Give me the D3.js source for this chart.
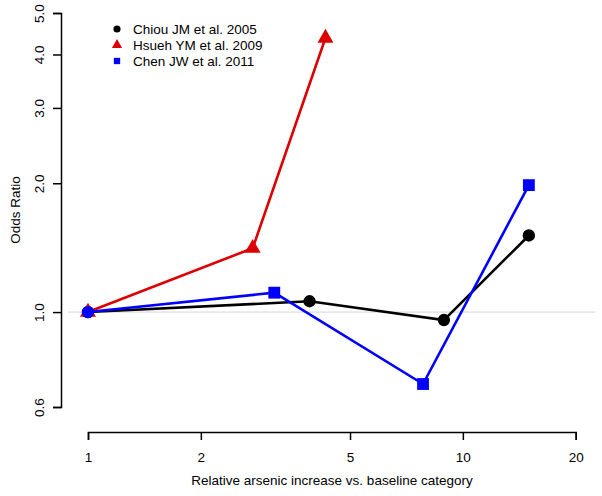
<!DOCTYPE html>
<html><head><meta charset="utf-8">
<script src="https://cdn.jsdelivr.net/npm/d3@7"></script>
<style>body{margin:0;background:#fff}svg{display:block}text{font-family:"Liberation Sans",Arial,Helvetica,sans-serif;fill:#000}</style>
</head><body>
<svg id="c" width="602" height="496"></svg>
<script>
const seriesNames = ["Chiou JM et al. 2005", "Hsueh YM et al. 2009", "Chen JW et al. 2011"];
const seriesColors = ["#000000", "#dd0000", "#0000ff"];
const seriesShapes = ["circle", "triangle", "square"];
const chiouX = [1, 3.9, 8.9, 15];
const chiouY = [1.0, 1.06, 0.958, 1.51];
const hsuehX = [1, 2.75, 4.3];
const hsuehY = [1.0, 1.41, 4.37];
const chenX = [1, 3.14, 7.83, 15];
const chenY = [1.0, 1.11, 0.679, 1.98];
const xTicks = [1, 2, 5, 10, 20];
const yTicks = [0.6, 1.0, 2.0, 3.0, 4.0, 5.0];
const xTitle = "Relative arsenic increase vs. baseline category";
const yTitle = "Odds Ratio";

const FS = 13.5;
const svg = d3.select("#c");
const x = d3.scaleLog().domain([1, 20]).range([88, 575.7]);
const y = d3.scaleLog().domain([0.6, 5.0]).range([407, 13]);

// reference line at OR = 1 spanning the plot region
const ext = Math.pow(20, 0.04);
svg.append("line")
  .attr("x1", x(1 / ext)).attr("x2", x(20 * ext))
  .attr("y1", y(1)).attr("y2", y(1))
  .attr("stroke", "#aaaaaa").attr("stroke-width", 1).attr("stroke-dasharray", "1,1");

// axes
const xAxis = d3.axisBottom(x).tickValues(xTicks).tickFormat(d3.format("d")).tickSizeOuter(0).tickSize(8).tickPadding(12);
const gx = svg.append("g").attr("transform", "translate(0,432)").call(xAxis);
gx.attr("font-size", null).attr("font-family", null);
gx.select(".domain").attr("stroke", "#000").attr("stroke-width", 1.5);
gx.selectAll(".tick line").attr("stroke", "#000").attr("stroke-width", 1.5);
gx.selectAll(".tick text").style("font-size", FS + "px");

const yAxis = d3.axisLeft(y).tickValues(yTicks).tickFormat(d3.format(".1f")).tickSizeOuter(0).tickSize(8);
const gy = svg.append("g").attr("transform", "translate(61,0)").call(yAxis);
gy.attr("font-size", null).attr("font-family", null);
gy.select(".domain").attr("stroke", "#000").attr("stroke-width", 1.5);
gy.selectAll(".tick line").attr("stroke", "#000").attr("stroke-width", 1.5);
gy.selectAll(".tick text").style("font-size", FS + "px")
  .attr("x", null).attr("text-anchor", "middle")
  .attr("transform", "translate(-22,0) rotate(-90)").attr("y", 0).attr("dy", "0.35em");

svg.append("text").attr("x", 332).attr("y", 485).attr("text-anchor", "middle").style("font-size", FS + "px").text(xTitle);
svg.append("text").attr("transform", "translate(20,210) rotate(-90)").attr("text-anchor", "middle").style("font-size", FS + "px").text(yTitle);

const data = [
  d3.zip(chiouX, chiouY),
  d3.zip(hsuehX, hsuehY),
  d3.zip(chenX, chenY)
];
const line = d3.line().x(d => x(d[0])).y(d => y(d[1]));
const sym = {circle: d3.symbolCircle, triangle: d3.symbolTriangle, square: d3.symbolSquare};
const sizes = {circle: 120, triangle: 110, square: 140};

data.forEach((pts, i) => {
  svg.append("path").attr("d", line(pts)).attr("fill", "none")
    .attr("stroke", seriesColors[i]).attr("stroke-width", 2.6);
});
data.forEach((pts, i) => {
  svg.selectAll(null).data(pts).enter().append("path")
    .attr("transform", d => `translate(${x(d[0])},${y(d[1])})`)
    .attr("d", (d, j) => {
      // the baseline point of the blue series is plotted as a disc in the original
      const shp = (i === 2 && j === 0) ? "circle" : seriesShapes[i];
      return d3.symbol().type(sym[shp]).size(sizes[shp])();
    })
    .attr("fill", seriesColors[i]);
});

// legend
const lg = svg.append("g");
seriesNames.forEach((n, i) => {
  const ly = 29 + i * 16;
  const shp = seriesShapes[i];
  lg.append("path").attr("transform", `translate(117,${ly})`)
    .attr("d", d3.symbol().type(sym[shp]).size(shp === "triangle" ? 45 : 40)())
    .attr("fill", seriesColors[i]);
  lg.append("text").attr("x", 133).attr("y", ly).attr("dy", "0.36em").style("font-size", FS + "px").text(n);
});
</script>
</body></html>
